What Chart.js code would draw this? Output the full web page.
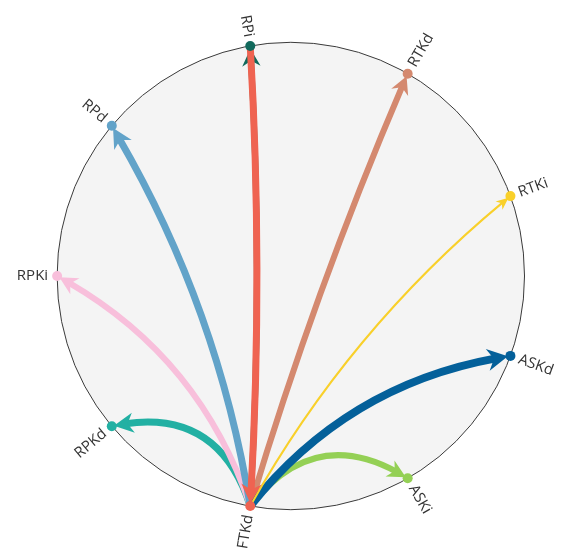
<!DOCTYPE html>
<html>
<head>
<meta charset="utf-8">
<script src="https://cdn.jsdelivr.net/npm/chart.js@4/dist/chart.umd.min.js"></script>
<style>
  html, body { margin: 0; padding: 0; background: #fff; }
  #wrap { width: 562px; height: 552px; position: relative; }
</style>
</head>
<body>
<div id="wrap"><canvas id="Network"></canvas></div>
<script>
// nodes sit on the circle, angle in degrees counter-clockwise from 3 o'clock
const nodeNames  = ['RTKi', 'RTKd', 'RPi', 'RPd', 'RPKi', 'RPKd', 'FTKd', 'ASKi', 'ASKd'];
const nodeAngles = [20, 60, 100, 140, 180, 220, 260, 300, 340];
const nodeColors = ['#f9d02a', '#d4896f', '#11695c', '#62a3c9', '#f8bfdb', '#22b0a3', '#ef6351', '#94d055', '#04609a'];

// links, drawn in this order (last on top)
const linkSources = ['FTKd', 'FTKd', 'FTKd', 'FTKd', 'FTKd', 'FTKd', 'FTKd', 'FTKd', 'RPi'];
const linkTargets = ['RPi', 'RPKd', 'RPKi', 'RPd', 'RTKd', 'ASKi', 'ASKd', 'RTKi', 'FTKd'];
const linkWeights = [6, 7, 6, 7, 6, 6, 8, 2, 7];

const BUNDLE = 0.67; // control point = BUNDLE * chord midpoint

const nodePoints = nodeAngles.map(a => ({
    x: Math.cos(a * Math.PI / 180),
    y: Math.sin(a * Math.PI / 180)
}));

function quadAt(p0, c, p2, t) {
    const u = 1 - t;
    return {
        x: u * u * p0.x + 2 * u * t * c.x + t * t * p2.x,
        y: u * u * p0.y + 2 * u * t * c.y + t * t * p2.y
    };
}

// step back from the end until we are `dist` pixels away from it
function tAtDistance(p0, c, p2, dist) {
    let t = 1;
    while (t > 0) {
        const p = quadAt(p0, c, p2, t);
        if (Math.hypot(p.x - p2.x, p.y - p2.y) >= dist) return t;
        t -= 0.002;
    }
    return 0;
}

const circlePlugin = {
    id: 'circle',
    beforeDatasetsDraw(chart) {
        const { ctx, scales } = chart;
        const cx = scales.x.getPixelForValue(0);
        const cy = scales.y.getPixelForValue(0);
        const r = scales.x.getPixelForValue(1) - cx;
        ctx.save();
        ctx.beginPath();
        ctx.arc(cx, cy, r, 0, Math.PI * 2);
        ctx.fillStyle = '#f4f4f4';
        ctx.fill();
        ctx.lineWidth = 1;
        ctx.strokeStyle = '#3a3a3a';
        ctx.stroke();
        ctx.restore();
    }
};

const linkPlugin = {
    id: 'links',
    beforeDatasetsDraw(chart) {
        const { ctx, scales } = chart;
        const px = p => ({ x: scales.x.getPixelForValue(p.x), y: scales.y.getPixelForValue(p.y) });

        ctx.save();
        linkSources.forEach((src, i) => {
            const si = nodeNames.indexOf(src);
            const ti = nodeNames.indexOf(linkTargets[i]);
            const a = nodePoints[si], b = nodePoints[ti];
            const ctrl = { x: BUNDLE * (a.x + b.x) / 2, y: BUNDLE * (a.y + b.y) / 2 };
            const p0 = px(a), c = px(ctrl), p2 = px(b);

            const w = linkWeights[i];
            const color = nodeColors[ti];
            const headLen = 9 + 1.5 * w;
            const headWid = 7 + 1.9 * w;

            const tTip = tAtDistance(p0, c, p2, 2);
            const tBase = tAtDistance(p0, c, p2, 2 + headLen);
            const tLine = tAtDistance(p0, c, p2, 2 + headLen * 0.6);
            const tip = quadAt(p0, c, p2, tTip);
            const base = quadAt(p0, c, p2, tBase);
            const lineEnd = quadAt(p0, c, p2, tLine);
            const splitCtrl = { x: p0.x + (c.x - p0.x) * tLine, y: p0.y + (c.y - p0.y) * tLine };

            ctx.beginPath();
            ctx.moveTo(p0.x, p0.y);
            ctx.quadraticCurveTo(splitCtrl.x, splitCtrl.y, lineEnd.x, lineEnd.y);
            ctx.lineWidth = w;
            ctx.lineCap = 'butt';
            ctx.strokeStyle = color;
            ctx.stroke();

            const dx = tip.x - base.x, dy = tip.y - base.y;
            const len = Math.hypot(dx, dy) || 1;
            const ux = dx / len, uy = dy / len;
            const nx = -uy, ny = ux;
            const notch = { x: base.x + ux * headLen * 0.3, y: base.y + uy * headLen * 0.3 };
            ctx.beginPath();
            ctx.moveTo(tip.x, tip.y);
            ctx.lineTo(base.x + nx * headWid / 2, base.y + ny * headWid / 2);
            ctx.lineTo(notch.x, notch.y);
            ctx.lineTo(base.x - nx * headWid / 2, base.y - ny * headWid / 2);
            ctx.closePath();
            ctx.fillStyle = color;
            ctx.fill();
        });
        ctx.restore();
    }
};

const labelPlugin = {
    id: 'labels',
    afterDatasetsDraw(chart) {
        const { ctx } = chart;
        const meta = chart.getDatasetMeta(0);
        ctx.save();
        ctx.font = '15px "Open Sans", sans-serif';
        ctx.fillStyle = '#333';
        ctx.textBaseline = 'middle';
        meta.data.forEach((pt, i) => {
            const ang = nodeAngles[i];
            const rad = ang * Math.PI / 180;
            ctx.save();
            ctx.translate(pt.x, pt.y);
            if (ang > 90 && ang < 270) {
                ctx.rotate(-rad + Math.PI);
                ctx.textAlign = 'right';
                ctx.fillText(nodeNames[i], -9, 0);
            } else {
                ctx.rotate(-rad);
                ctx.textAlign = 'left';
                ctx.fillText(nodeNames[i], 9, 0);
            }
            ctx.restore();
        });
        ctx.restore();
    }
};

new Chart('Network', {
    type: 'scatter',
    data: {
        datasets: [{
            label: 'nodes',
            data: nodePoints,
            pointRadius: 5,
            pointHoverRadius: 5,
            pointBorderWidth: 0,
            backgroundColor: nodeColors,
            clip: false
        }]
    },
    options: {
        responsive: true,
        maintainAspectRatio: false,
        animation: false,
        layout: { padding: 0 },
        plugins: {
            legend: { display: false },
            tooltip: { enabled: false }
        },
        scales: {
            x: { type: 'linear', display: false, min: -1.223, max: 1.139 },
            y: { type: 'linear', display: false, min: -1.160, max: 1.160 }
        }
    },
    plugins: [circlePlugin, linkPlugin, labelPlugin]
});
</script>
</body>
</html>
